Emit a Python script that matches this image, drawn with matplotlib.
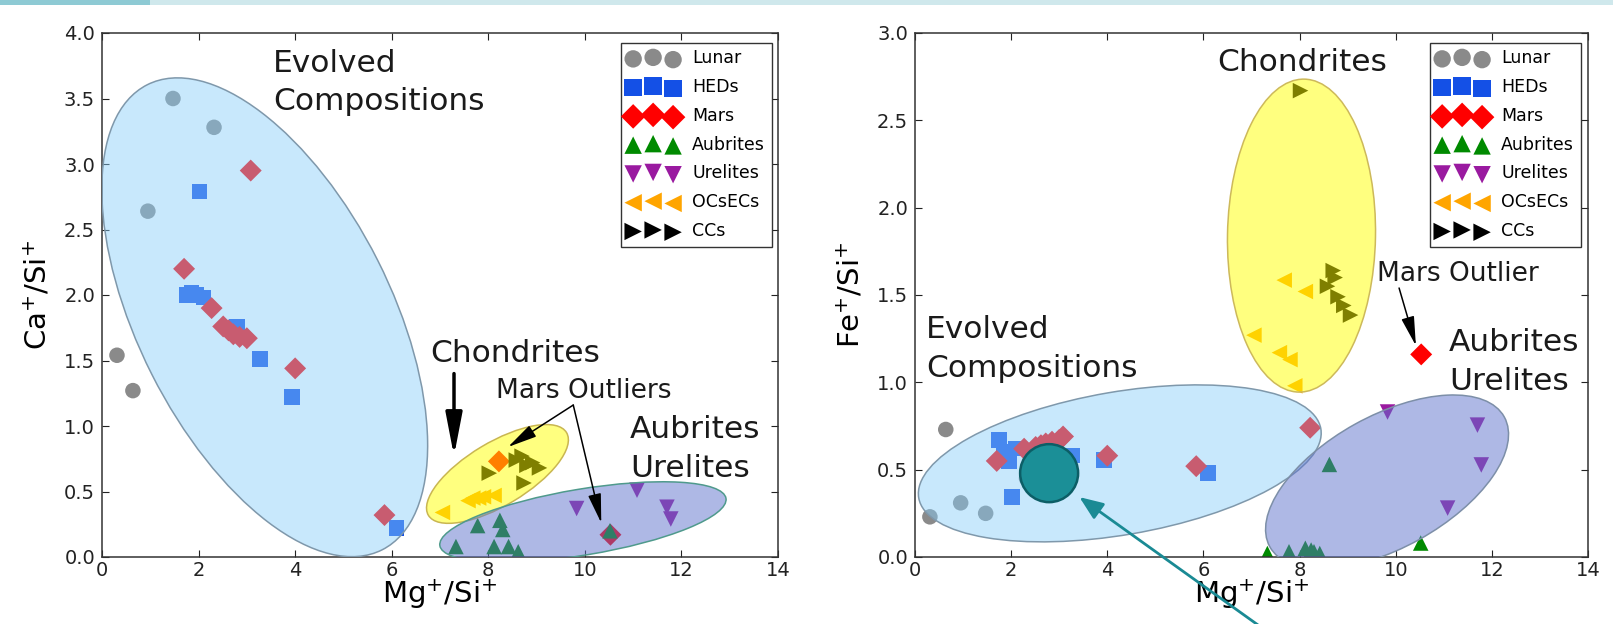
import matplotlib
matplotlib.use("Agg")
import matplotlib.pyplot as plt
from matplotlib.patches import Ellipse, Circle, Rectangle
from matplotlib.transforms import ScaledTranslation

# Ion ratios per meteorite group: Mg+/Si+ (x), Ca+/Si+ (left panel), Fe+/Si+ (right panel)
lunar_mg = [0.31, 0.64, 0.95, 1.47, 2.32]
lunar_ca = [1.54, 1.27, 2.64, 3.50, 3.28]
lunar_fe = [0.23, 0.73, 0.31, 0.25, 0.45]

hed_mg = [1.75, 1.85, 1.95, 2.02, 2.10, 2.80, 3.27, 3.93, 6.10]
hed_ca = [2.00, 2.02, 2.00, 2.79, 1.98, 1.76, 1.51, 1.22, 0.22]
hed_fe = [0.67, 0.60, 0.55, 0.345, 0.62, 0.50, 0.58, 0.555, 0.48]

mars_mg = [1.70, 2.27, 2.51, 2.62, 2.72, 2.85, 3.00, 3.08, 4.00, 5.85, 8.22, 10.53]
mars_ca = [2.20, 1.90, 1.76, 1.73, 1.70, 1.68, 1.67, 2.95, 1.44, 0.32, 0.73, 0.17]
mars_fe = [0.55, 0.62, 0.63, 0.64, 0.65, 0.66, 0.67, 0.69, 0.58, 0.52, 0.74, 1.16]

aub_mg = [7.33, 7.78, 8.12, 8.24, 8.30, 8.42, 8.62, 10.52]
aub_ca = [0.08, 0.24, 0.08, 0.28, 0.21, 0.08, 0.04, 0.20]
aub_fe = [0.02, 0.03, 0.05, 0.04, 0.03, 0.02, 0.53, 0.08]

ure_mg = [9.83, 11.08, 11.70, 11.78]
ure_ca = [0.37, 0.51, 0.38, 0.29]
ure_fe = [0.83, 0.28, 0.755, 0.527]

oc_mg = [7.05, 7.58, 7.68, 7.80, 7.90, 8.12]
oc_ca = [0.34, 0.43, 0.45, 0.45, 0.46, 0.47]
oc_fe = [1.27, 1.17, 1.585, 1.13, 0.98, 1.52]

cc_mg = [8.02, 8.58, 8.70, 8.74, 8.80, 8.92, 9.06]
cc_ca = [0.64, 0.74, 0.77, 0.565, 0.70, 0.72, 0.68]
cc_fe = [2.67, 1.55, 1.64, 1.60, 1.49, 1.44, 1.385]

group_labels = ["Lunar", "HEDs", "Mars", "Aubrites", "Urelites", "OCsECs", "CCs"]
group_markers = ["o", "s", "D", "^", "v", "<", ">"]
group_colors = ["#8a8a8a", "#1450e6", "#ff0000", "#008a00", "#9a1aa0", "#ffa500", "#000000"]

x_ticks = [0, 2, 4, 6, 8, 10, 12, 14]
ca_ticks = [0.0, 0.5, 1.0, 1.5, 2.0, 2.5, 3.0, 3.5, 4.0]
fe_ticks = [0.0, 0.5, 1.0, 1.5, 2.0, 2.5, 3.0]

DPI = 100
fig = plt.figure(figsize=(16.13, 6.24), dpi=DPI, facecolor="white")

# thin header band along the top edge
fig.patches.append(Rectangle((150 / 1613, 1 - 5 / 624), 1 - 150 / 1613, 5 / 624,
                             transform=fig.transFigure, facecolor="#cfe8ec",
                             edgecolor="none", zorder=0))
fig.patches.append(Rectangle((0, 1 - 5 / 624), 150 / 1613, 5 / 624,
                             transform=fig.transFigure, facecolor="#8ecad4",
                             edgecolor="none", zorder=0))

ax1 = fig.add_axes([102 / 1613, 67 / 624, 676 / 1613, 524 / 624])
ax2 = fig.add_axes([915 / 1613, 67 / 624, 673 / 1613, 524 / 624])


def style_axes(ax, yticks):
    ax.set_xlim(0, 14)
    ax.set_ylim(yticks[0], yticks[-1])
    ax.set_xticks(x_ticks)
    ax.set_yticks(yticks)
    ax.set_yticklabels([f"{t:.1f}" for t in yticks])
    ax.tick_params(direction="in", length=5, width=0.8, top=True, right=True,
                   labelsize=14, pad=5, colors="#222222")
    ax.tick_params(axis="x", pad=3)
    for s in ax.spines.values():
        s.set_color("#333333")
        s.set_linewidth(1.1)
    ax.set_xlabel("Mg$^{+}$/Si$^{+}$", fontsize=21, labelpad=-2)


def plot_groups(ax, ys):
    xs = [lunar_mg, hed_mg, mars_mg, aub_mg, ure_mg, oc_mg, cc_mg]
    handles = []
    for x, y, m, c in zip(xs, ys, group_markers, group_colors):
        h = ax.scatter(x, y, s=125, marker=m, c=c, edgecolors="none", zorder=2)
        handles.append(h)
    return handles


def region(ax, center, w_in, h_in, angle, face, edge):
    # ellipse sized in inches, centred on a data point
    trans = fig.dpi_scale_trans + ScaledTranslation(center[0], center[1], ax.transData)
    e = Ellipse((0, 0), w_in, h_in, angle=angle, transform=trans,
                facecolor=face, edgecolor=edge, linewidth=1.1, zorder=3)
    ax.add_patch(e)


def add_legend(ax, handles, right_pad_px, width_px):
    leg = ax.legend(handles, group_labels, loc="upper right",
                    bbox_to_anchor=(1 - right_pad_px / width_px, 1 - 9.5 / 524),
                    borderaxespad=0, scatterpoints=3,
                    scatteryoffsets=[0.375, 0.5, 0.3125], fontsize=12.5,
                    markerscale=1.12,
                    fancybox=False, framealpha=1, edgecolor="#333333",
                    handlelength=2.9, handletextpad=0.8, labelspacing=0.62,
                    borderpad=0.4)
    leg.get_frame().set_linewidth(1.0)
    leg.set_zorder(6)


blue_face = (135 / 255, 206 / 255, 250 / 255, 0.45)
yellow_face = (1.0, 1.0, 0.0, 0.5)
purple_face = (95 / 255, 115 / 255, 205 / 255, 0.5)

label_kw = dict(fontsize=22.5, va="baseline", ha="left", color="#1a1a1a",
                linespacing=1.42, zorder=4)
small_kw = dict(fontsize=19, va="baseline", ha="left", color="#1a1a1a", zorder=4)

# ---- left panel: Ca+/Si+ vs Mg+/Si+
style_axes(ax1, ca_ticks)
ax1.set_ylabel("Ca$^{+}$/Si$^{+}$", fontsize=21, labelpad=8)
h1 = plot_groups(ax1, [lunar_ca, hed_ca, mars_ca, aub_ca, ure_ca, oc_ca, cc_ca])
region(ax1, (3.37, 1.83), 5.21, 2.53, -63.2, blue_face, "#7f98ab")
region(ax1, (8.19, 0.634), 1.61, 0.63, 30.9, yellow_face, "#c9b651")
region(ax1, (9.96, 0.267), 2.90, 0.66, 9.4, purple_face, "#4f9a8c")
add_legend(ax1, h1, 6, 676)

ax1.text(3.54, 3.41, "Evolved\nCompositions", **label_kw)
ax1.text(6.79, 1.49, "Chondrites", **label_kw)
ax1.text(8.17, 1.21, "Mars Outliers", **small_kw)
ax1.text(10.93, 0.613, "Aubrites\nUrelites", **label_kw)

ax1.annotate("", xy=(7.29, 0.77), xytext=(7.29, 1.40),
             arrowprops=dict(arrowstyle="-|>,head_length=1.3,head_width=0.25",
                             mutation_scale=20, color="black", lw=2.5,
                             shrinkA=0, shrinkB=0), zorder=4)
for tip in [(8.41, 0.84), (10.34, 0.26)]:
    ax1.annotate("", xy=tip, xytext=(9.76, 1.16),
                 arrowprops=dict(arrowstyle="-|>,head_length=0.9,head_width=0.2",
                                 mutation_scale=20, color="black", lw=1.1,
                                 shrinkA=0, shrinkB=0), zorder=4)

# ---- right panel: Fe+/Si+ vs Mg+/Si+
style_axes(ax2, fe_ticks)
ax2.set_ylabel("Fe$^{+}$/Si$^{+}$", fontsize=21, labelpad=8)
h2 = plot_groups(ax2, [lunar_fe, hed_fe, mars_fe, aub_fe, ure_fe, oc_fe, cc_fe])
region(ax2, (4.26, 0.536), 4.08, 1.43, 9.75, blue_face, "#7f98ab")
region(ax2, (8.04, 1.84), 1.48, 3.13, -1.0, yellow_face, "#cdb95a")
region(ax2, (9.82, 0.43), 2.68, 1.32, 29.0, purple_face, "#7d8fa8")
add_legend(ax2, h2, 7, 673)

ax2.text(0.23, 1.032, "Evolved\nCompositions", **label_kw)
ax2.text(6.28, 2.78, "Chondrites", **label_kw)
ax2.text(9.61, 1.58, "Mars Outlier", **small_kw)
ax2.text(11.11, 0.956, "Aubrites\nUrelites", **label_kw)
ax2.annotate("", xy=(10.42, 1.21), xytext=(10.07, 1.54),
             arrowprops=dict(arrowstyle="-|>,head_length=0.9,head_width=0.2",
                             mutation_scale=20, color="black", lw=1.1,
                             shrinkA=0, shrinkB=0), zorder=4)

# highlight marker with a pointer coming up from below the panel
marker_trans = fig.dpi_scale_trans + ScaledTranslation(2.79, 0.48, ax2.transData)
spot = Circle((0, 0), 0.29, transform=marker_trans, facecolor="#1b8f97",
              edgecolor="#0c5e66", linewidth=1.8, zorder=8, clip_on=False)
ax2.add_patch(spot)
ax2.annotate("", xy=(3.42, 0.343), xycoords="data", xytext=(1265, -6),
             textcoords="figure pixels", annotation_clip=False,
             arrowprops=dict(arrowstyle="-|>,head_length=0.8,head_width=0.32",
                             mutation_scale=18, color="#1a8a94", lw=2.0,
                             shrinkA=0, shrinkB=0), zorder=9)

fig.savefig("out.png", dpi=DPI, facecolor="white")
